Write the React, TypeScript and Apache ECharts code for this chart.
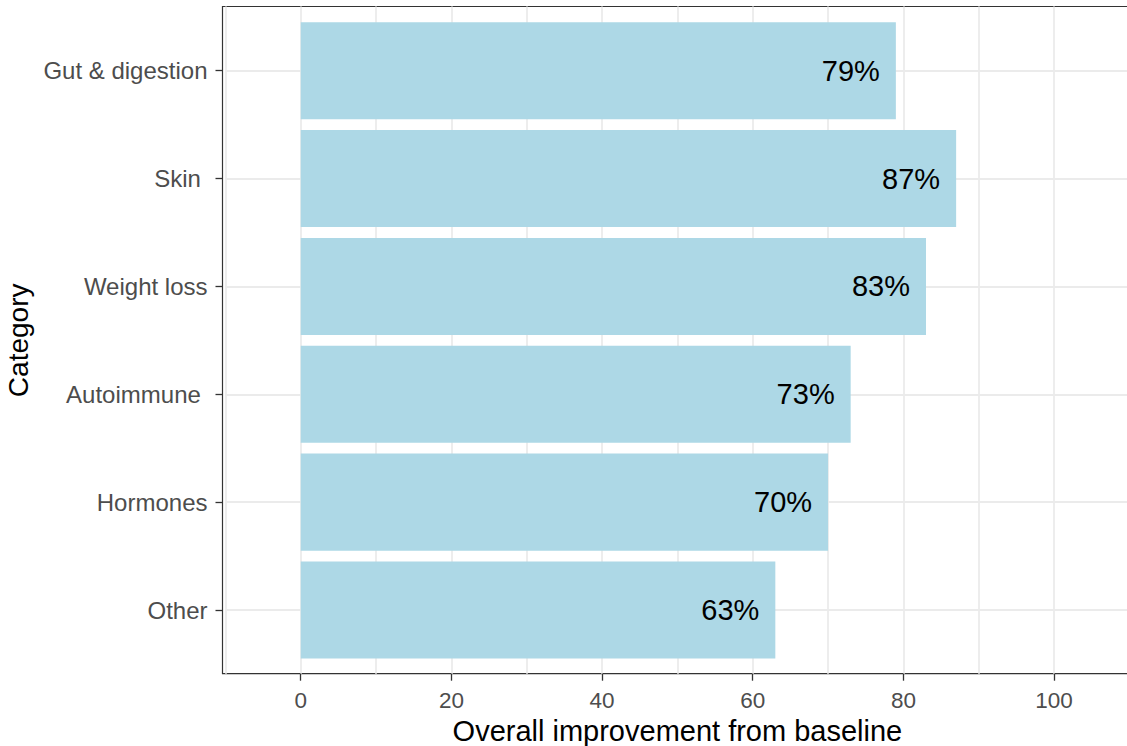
import React, { useEffect, useRef } from "react";
import * as echarts from "echarts";

// Categories, top to bottom
const categories: string[] = [
  "Gut & digestion",
  "Skin ",
  "Weight loss",
  "Autoimmune ",
  "Hormones",
  "Other",
];

// Overall improvement (%) per category
const improvement: number[] = [79, 87, 83, 73, 70, 63];

// Labelled x ticks
const xTickValues: number[] = [0, 20, 40, 60, 80, 100];

const X_MIN = -10;
const X_MAX = 110;

const FONT = "'Liberation Sans', Arial, Helvetica, sans-serif";

export default function App() {
  const ref = useRef<HTMLDivElement>(null);

  useEffect(() => {
    if (!ref.current) return;
    const chart = echarts.init(ref.current, null, { renderer: "svg" });

    const plotLeft = 225.4; // position of x = -10
    const plotWidth = 904; // -10 .. 110
    const panelTop = 6.5;
    const panelHeight = 667.2;

    const option: any = {
      animation: false,
      backgroundColor: "#ffffff",
      textStyle: { fontFamily: FONT },
      grid: [
        // panel frame
        {
          left: 222.5,
          top: panelTop,
          width: 930,
          height: panelHeight,
          show: true,
          borderColor: "#333333",
          borderWidth: 1.2,
          backgroundColor: "transparent",
          containLabel: false,
          outerBoundsMode: "none",
        },
        // vertical grid lines, x ticks and labels
        {
          left: plotLeft,
          top: panelTop,
          width: plotWidth,
          height: panelHeight,
          containLabel: false,
          outerBoundsMode: "none",
        },
        // bars; category centres span the inner band
        {
          left: plotLeft,
          top: 70.7,
          width: plotWidth,
          height: 539.3,
          containLabel: false,
          outerBoundsMode: "none",
        },
      ],
      xAxis: [
        { gridIndex: 0, type: "value", min: 0, max: 1, show: false },
        {
          gridIndex: 1,
          type: "value",
          min: X_MIN,
          max: X_MAX,
          interval: 10,
          axisLine: { show: false, onZero: false },
          axisTick: { show: false },
          axisLabel: { show: false },
          splitLine: { show: true, lineStyle: { color: "#EBEBEB", width: 1.8 } },
        },
        {
          gridIndex: 1,
          type: "value",
          position: "bottom",
          min: X_MIN,
          max: X_MAX,
          interval: 10,
          axisLine: { show: false, onZero: false },
          splitLine: { show: false },
          axisTick: {
            show: true,
            customValues: xTickValues,
            length: 7,
            lineStyle: { color: "#333333", width: 1.3 },
          },
          axisLabel: {
            show: true,
            customValues: xTickValues,
            fontSize: 22.5,
            color: "#4D4D4D",
            fontFamily: FONT,
            margin: 15,
          },
          name: "Overall improvement from baseline",
          nameLocation: "middle",
          nameGap: 37,
          nameTextStyle: { fontSize: 29, color: "#000000", fontFamily: FONT },
        },
        { gridIndex: 2, type: "value", min: X_MIN, max: X_MAX, show: false },
      ],
      yAxis: [
        { gridIndex: 0, type: "value", min: 0, max: 1, show: false },
        { gridIndex: 1, type: "value", min: 0, max: 1, show: false },
        {
          gridIndex: 2,
          type: "category",
          data: categories,
          inverse: true,
          boundaryGap: false,
          offset: 2.9,
          axisLine: { show: false, onZero: false },
          axisTick: {
            show: true,
            length: 7,
            lineStyle: { color: "#333333", width: 1.3 },
          },
          axisLabel: {
            fontSize: 24,
            color: "#4D4D4D",
            fontFamily: FONT,
            margin: 15,
            formatter: (v: string) => v.replace(/ $/, "\u00a0"),
          },
          splitLine: { show: true, lineStyle: { color: "#EBEBEB", width: 2 } },
          name: "Category",
          nameLocation: "middle",
          nameRotate: 90,
          nameGap: 185,
          nameTextStyle: { fontSize: 28, color: "#000000", fontFamily: FONT },
        },
      ],
      series: [
        {
          type: "bar",
          xAxisIndex: 3,
          yAxisIndex: 2,
          data: improvement,
          barCategoryGap: "10%",
          clip: false,
          itemStyle: { color: "#ADD8E6" },
          label: {
            show: true,
            position: "insideRight",
            distance: 16,
            formatter: (p: any) => `${p.value}%`,
            fontSize: 29,
            color: "#000000",
            fontFamily: FONT,
          },
        },
      ],
    };

    chart.setOption(option);
    return () => chart.dispose();
  }, []);

  return (
    <div
      ref={ref}
      style={{ position: "absolute", left: 0, top: 0, width: 1127, height: 746 }}
    />
  );
}
